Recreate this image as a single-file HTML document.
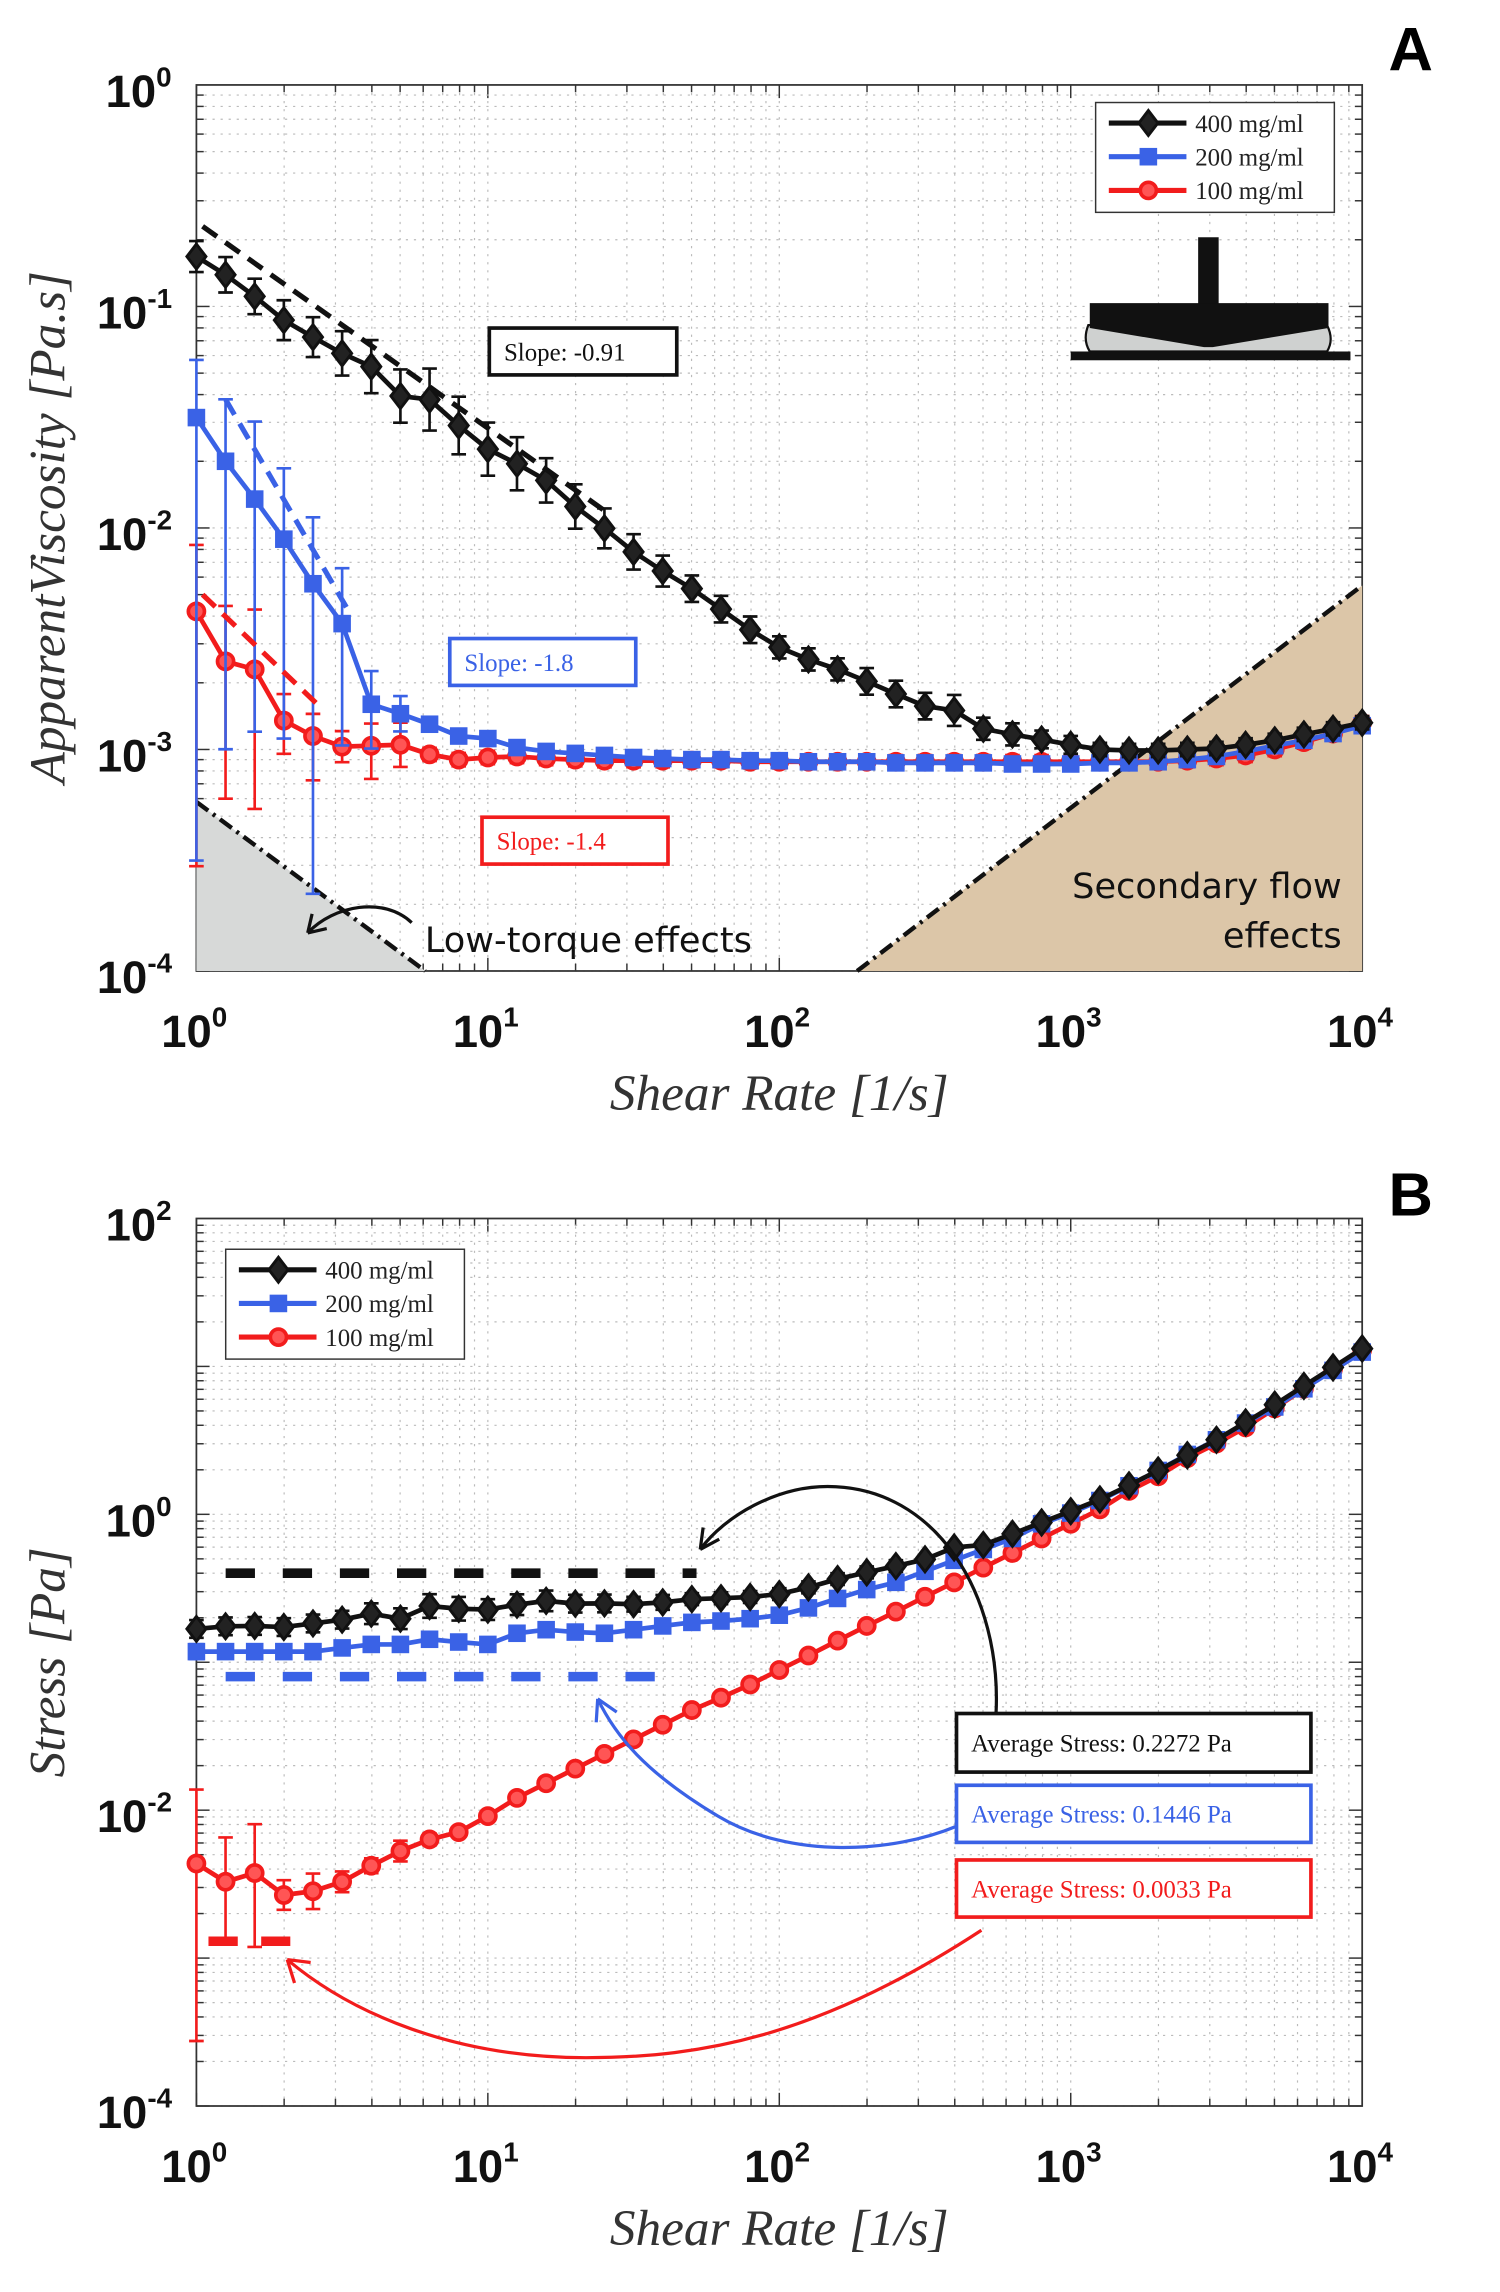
<!DOCTYPE html>
<html><head><meta charset="utf-8"><style>
html,body{margin:0;padding:0;background:#fff;}
svg{display:block;}
.tick{font-family:"Liberation Sans",sans-serif;font-weight:bold;font-size:31px;fill:#111;}
.sup{font-size:19px;}
.axl{font-family:"Liberation Serif",serif;font-style:italic;font-size:35px;fill:#333;}
.leg{font-family:"Liberation Serif",serif;font-size:17px;fill:#222;}
.box{font-family:"Liberation Serif",serif;font-size:17px;}
.ann{font-family:"DejaVu Sans",sans-serif;font-size:24px;fill:#111;}
.pl{font-family:"Liberation Sans",sans-serif;font-weight:bold;font-size:42px;fill:#000;}
</style></head><body>
<svg id="fig" width="1500" height="2292" viewBox="0 0 1024 1565" xmlns="http://www.w3.org/2000/svg"></svg>
<script>
// ---- data (shear rates: 10 points per decade, 1 .. 1e4) ----
const nPts = 41;
const shearRates = Array.from({length:nPts},(_,i)=>Math.pow(10,i/10));
const yTicksA = [0,-1,-2,-3,-4];
const yTicksB = [2,0,-2,-4];
const xTicks = [0,1,2,3,4];
const viscBlack = [0.168,0.139,0.111,0.0867,0.0727,0.0614,0.0535,0.0394,0.038,0.029,0.0227,0.0195,0.0164,0.0125,0.00996,0.0078,0.00639,0.00532,0.0043,0.00347,0.00289,0.00255,0.0023,0.00203,0.00178,0.00157,0.0015,0.00124,0.00117,0.00111,0.00105,0.001,0.00099,0.00099,0.001,0.00101,0.00105,0.0011,0.00117,0.00124,0.00132];
const viscBlue = [0.0315,0.020,0.0135,0.0089,0.0056,0.0037,0.0016,0.00145,0.0013,0.00115,0.00112,0.00102,0.00098,0.00096,0.00094,0.00092,0.00091,0.0009,0.0009,0.00089,0.00089,0.00088,0.00088,0.00088,0.00087,0.00087,0.00087,0.00087,0.00086,0.00086,0.00086,0.00087,0.00087,0.00088,0.0009,0.00093,0.00098,0.00104,0.0011,0.00118,0.00128];
const viscRed = [0.0042,0.0025,0.0023,0.00135,0.00115,0.00103,0.00104,0.00105,0.00095,0.0009,0.00092,0.00093,0.00091,0.0009,0.00089,0.00089,0.00089,0.00089,0.00089,0.00088,0.00088,0.00088,0.00088,0.00088,0.00088,0.00088,0.00088,0.00088,0.00088,0.00088,0.00088,0.00088,0.00088,0.00088,0.00089,0.00091,0.00094,0.001,0.00108,0.00118,0.00132];
const errBlackA = [0.07,0.08,0.08,0.09,0.09,0.1,0.12,0.12,0.14,0.13,0.12,0.12,0.1,0.1,0.09,0.08,0.07,0.06,0.06,0.06,0.05,0.05,0.05,0.06,0.06,0.06,0.07,0.05,0.05,0.04,0.04,0.03,0.03,0.03,0.03,0.03,0.03,0.03,0.03,0.03,0.03];
const errBlueUpA = [0.26,0.28,0.35,0.32,0.3,0.25,0.15,0.08];
const errBlueDnA = [2,1.3,1.05,0.9,1.4,0.55,0.2,0.08];
const errRedUpA = [0.3,0.25,0.27,0.12,0.1,0.07,0.1,0.1];
const errRedDnA = [1.15,0.62,0.63,0.15,0.2,0.07,0.15,0.1];
const stressBlack = [0.168,0.175,0.176,0.173,0.183,0.194,0.213,0.197,0.24,0.23,0.227,0.245,0.26,0.249,0.25,0.247,0.254,0.267,0.271,0.276,0.289,0.321,0.365,0.405,0.447,0.496,0.597,0.621,0.738,0.881,1.05,1.26,1.57,1.98,2.51,3.19,4.18,5.51,7.38,9.85,13.2];
const stressBlue = [0.118,0.118,0.118,0.118,0.118,0.125,0.132,0.132,0.143,0.137,0.132,0.157,0.166,0.16,0.157,0.166,0.176,0.186,0.19,0.197,0.208,0.233,0.27,0.31,0.347,0.412,0.489,0.579,0.687,0.863,1.02,1.24,1.56,1.98,2.54,3.19,4.14,5.32,7.06,9.4,12.5];
const stressRed = [0.00436,0.00328,0.00376,0.00267,0.00283,0.00328,0.00421,0.00529,0.00634,0.00711,0.00912,0.0121,0.0152,0.0191,0.024,0.0301,0.0378,0.0475,0.0576,0.0707,0.0887,0.111,0.14,0.176,0.22,0.277,0.347,0.436,0.548,0.687,0.863,1.08,1.44,1.81,2.4,3.01,3.87,5.2,7.06,9.6,12.9];
const errBlackB = [0.06,0.06,0.06,0.06,0.06,0.06,0.07,0.07,0.08,0.08,0.07,0.07,0.07,0.06,0.06,0.05,0.05,0.04,0.04,0.04,0.04,0.04,0.04,0.04,0.04,0.03,0.03,0.03,0.03,0.03];
const errBlueB = [0.05,0.04,0.04,0.03,0.03,0.03];
const errRedUpB = [0.5,0.3,0.33,0.1,0.12,0.07,0.05,0.07,0.04];
const errRedDnB = [1.2,0.4,0.5,0.1,0.12,0.07,0.05,0.07,0.04];
// fitted slope lines [x0, y0, x1, y1]
const slopeBlack = [1.05,0.23,26,0.0116];
const slopeBlue = [1.26,0.038,3.3,0.0043];
const slopeRed = [1.05,0.005,2.6,0.0016];
const avgBlack = [1.26,52,0.4];
const avgBlue = [1.26,40,0.08];
const avgRed = [1.1,2.1,0.0013];

const NS="http://www.w3.org/2000/svg";
const svg=document.getElementById('fig');
function mk(tag,attrs,parent){const e=document.createElementNS(NS,tag);for(const k in attrs)e.setAttribute(k,attrs[k]);(parent||svg).appendChild(e);return e;}
const X0=134,X1=930;
const xs=v=>X0+(Math.log10(v))*(X1-X0)/4;
function yScale(top,bot,lmax,lmin){return v=>top+(lmax-Math.log10(v))*(bot-top)/(lmax-lmin);}
const yA=yScale(58,663,0,-4);
const yB=yScale(832,1438,2,-4);
const COL={k:'#111',b:'#3a62e6',r:'#f21c1c'};

function axes(top,bot,lmax,lmin,ys,name,ticksY,ylab,labx){
  const g=mk('g',{});
  
  
  for(let d=0;d<4;d++)for(let m=1;m<10;m++){const x=xs(Math.pow(10,d)*m);
    mk('line',{x1:x,x2:x,y1:top,y2:bot,stroke:'#bbb','stroke-width':0.8,'stroke-dasharray':'1.5 4'},g);
    mk('line',{x1:x,x2:x,y1:top,y2:top+(m==1?9:5),stroke:'#333','stroke-width':1},g);
    mk('line',{x1:x,x2:x,y1:bot,y2:bot-(m==1?9:5),stroke:'#333','stroke-width':1},g);}
  for(let d=lmin;d<lmax;d++)for(let m=1;m<10;m++){const y=ys(Math.pow(10,d)*m);
    mk('line',{x1:X0,x2:X1,y1:y,y2:y,stroke:'#bbb','stroke-width':0.8,'stroke-dasharray':'1.5 4'},g);
    mk('line',{x1:X0,x2:X0+(m==1?9:5),y1:y,y2:y,stroke:'#333','stroke-width':1},g);
    mk('line',{x1:X1,x2:X1-(m==1?9:5),y1:y,y2:y,stroke:'#333','stroke-width':1},g);}
  mk('rect',{x:X0,y:top,width:X1-X0,height:bot-top,fill:'none',stroke:'#333','stroke-width':1.2},g);
  xTicks.forEach(p=>{const t=mk('text',{x:xs(Math.pow(10,p))-24,y:bot+52,class:'tick'},g);
    
    
    t.innerHTML='10<tspan class="sup" dy="-14">'+p+'</tspan>';});
  ticksY.forEach(p=>{const t=mk('text',{x:p<0?66:72,y:ys(Math.pow(10,p))+15,class:'tick'},g);
    
    
    t.innerHTML='10<tspan class="sup" dy="-14">'+p+'</tspan>';});
  const xl=mk('text',{x:532,y:bot+95,class:'axl','text-anchor':'middle'},g);
  
  
  xl.textContent='Shear  Rate  [1/s]';
  const yl=mk('text',{x:0,y:0,class:'axl','text-anchor':'middle',transform:'translate(44,'+labx+') rotate(-90)'},g);
  
  
  yl.textContent=ylab;
}

function marker(shape,x,y,c,g){
  let m;
  if(shape==='d') m=mk('polygon',{points:`${x},${y-8.5} ${x+6.5},${y} ${x},${y+8.5} ${x-6.5},${y}`,fill:'#222',stroke:c,'stroke-width':2},g);
  else if(shape==='s') m=mk('rect',{x:x-5,y:y-5,width:10,height:10,fill:c,stroke:c,'stroke-width':2},g);
  else m=mk('circle',{cx:x,cy:y,r:5.5,fill:'#f55',stroke:c,'stroke-width':2.5},g);
  
  
}

function series(vals,ys,top,bot,c,shape,errUp,errDn,name,defErr){
  const g=mk('g',{});
  
  
  vals.forEach((v,i)=>{
    let up=errUp[i]!==undefined?errUp[i]:defErr, dn=errDn[i]!==undefined?errDn[i]:defErr;
    const x=xs(shearRates[i]);
    const y1=Math.max(top,ys(v*Math.pow(10,up))), y2=Math.min(bot,ys(v/Math.pow(10,dn)));
    const eb=mk('path',{d:`M${x},${y1}V${y2}M${x-5},${y1}H${x+5}`+(y2<bot?`M${x-5},${y2}H${x+5}`:''),stroke:c,'stroke-width':1.8,fill:'none'},g);
    
    
  });
  const ln=mk('polyline',{points:vals.map((v,i)=>xs(shearRates[i])+','+ys(v)).join(' '),fill:'none',stroke:c,'stroke-width':3.2},g);
  
  
  vals.forEach((v,i)=>marker(shape,xs(shearRates[i]),ys(v),c,g));
}

function legend(x,y){
  const g=mk('g',{});
  
  
  mk('rect',{x:x,y:y,width:163,height:75,fill:'#fff',stroke:'#333','stroke-width':1},g);
  [['400 mg/ml',COL.k,'d'],['200 mg/ml',COL.b,'s'],['100 mg/ml',COL.r,'o']].forEach((e,i)=>{
    const ly=y+14+i*23;
    const le=mk('g',{},g);
    
    
    mk('line',{x1:x+9,x2:x+62,y1:ly,y2:ly,stroke:e[1],'stroke-width':3.5},le);
    marker(e[2],x+36,ly,e[1],le);
    const t=mk('text',{x:x+68,y:ly+6,class:'leg'},le);t.textContent=e[0];
  });
}
function textBox(x,y,w,h,c,txt,name){
  const g=mk('g',{});
  
  
  mk('rect',{x:x,y:y,width:w,height:h,fill:'#fff',stroke:c,'stroke-width':2.5},g);
  const t=mk('text',{x:x+10,y:y+h/2+6,class:'box',fill:c},g);t.textContent=txt;
}
function dashed(arr,ys,c,w,dash,name){
  const l=mk('line',{x1:xs(arr[0]),y1:ys(arr[1]),x2:xs(arr[2]),y2:ys(arr[3]),stroke:c,'stroke-width':w,'stroke-dasharray':dash});
  
  
}
function hdash(arr,ys,c,name,dash){
  const l=mk('line',{x1:xs(arr[0]),y1:ys(arr[2]),x2:xs(arr[1]),y2:ys(arr[2]),stroke:c,'stroke-width':6.5,'stroke-dasharray':dash||'20 19'});
  
  
}

// ===== Panel A =====
axes(58,663,0,-4,yA,'panel-a-axes',yTicksA,'ApparentViscosity  [Pa.s]',360);
const gr=mk('polygon',{points:`${xs(1)},${yA(0.00058)} ${xs(6.1)},663 ${X0},663`,fill:'#d7d9d8'});


const tan=mk('polygon',{points:`${xs(185)},663 ${X1},${yA(0.0055)} ${X1},663`,fill:'#dcc6a8'});


dashed([1,0.00058,6.1,0.0001],yA,'#111',3,'10 4 2 4','low-torque-limit-line');
dashed([185,0.0001,1e4,0.0055],yA,'#111',3,'10 4 2 4','secondary-flow-limit-line');
series(viscRed,yA,58,663,COL.r,'o',errRedUpA,errRedDnA,'series-100-mgml',0.03);
series(viscBlue,yA,58,663,COL.b,'s',errBlueUpA,errBlueDnA,'series-200-mgml',0.03);
series(viscBlack,yA,58,663,COL.k,'d',errBlackA,errBlackA,'series-400-mgml',0.03);
dashed(slopeBlack,yA,COL.k,3.5,'12 7','slope-fit-black');
dashed(slopeBlue,yA,COL.b,3.5,'12 7','slope-fit-blue');
dashed(slopeRed,yA,COL.r,3.5,'12 7','slope-fit-red');
legend(748,70);
textBox(334,224,128,32,'#111','Slope:  -0.91','slope-label-black');
textBox(307,436,127,32,COL.b,'Slope:  -1.8','slope-label-blue');
textBox(329,558,127,32,COL.r,'Slope:  -1.4','slope-label-red');
let t=mk('text',{x:290,y:650,class:'ann'});t.textContent='Low-torque effects';


t=mk('text',{x:916,y:613,class:'ann','text-anchor':'end'});t.textContent='Secondary flow';


t=mk('text',{x:916,y:647,class:'ann','text-anchor':'end'});t.textContent='effects';


let ar=mk('path',{d:'M281,630 C262,612 228,618 210,637 M210,637 l3,-13 M210,637 l13,-3',stroke:'#111','stroke-width':2.2,fill:'none'});


const ic=mk('g',{});


mk('rect',{x:818,y:162,width:14,height:46,fill:'#111'},ic);
mk('path',{d:'M743,222 Q739,232 744,240 L906,240 Q911,232 906,222 Z',fill:'#cfd1d0',stroke:'#111','stroke-width':1.5},ic);
mk('path',{d:'M744,207 H907 V224 L828,237 L822,237 L744,224 Z',fill:'#111'},ic);
mk('rect',{x:731,y:240,width:191,height:6,fill:'#111'},ic);
t=mk('text',{x:948,y:48,class:'pl'});t.textContent='A';



// ===== Panel B =====
axes(832,1438,2,-4,yB,'panel-b-axes',yTicksB,'Stress  [Pa]',1135);
hdash(avgBlack,yB,COL.k,'average-stress-line-black');
hdash(avgBlue,yB,COL.b,'average-stress-line-blue');
hdash(avgRed,yB,COL.r,'average-stress-line-red','20 16');
series(stressRed,yB,832,1438,COL.r,'o',errRedUpB,errRedDnB,'stress-series-100-mgml',0.02);
series(stressBlue,yB,832,1438,COL.b,'s',errBlueB,errBlueB,'stress-series-200-mgml',0.02);
series(stressBlack,yB,832,1438,COL.k,'d',errBlackB,errBlackB,'stress-series-400-mgml',0.02);
legend(154,853);
ar=mk('path',{d:'M680,1170 C684,1090 640,1015 565,1015 C530,1015 495,1035 478,1058 M478,1058 l2,-15 M478,1058 l13,-7',stroke:'#111','stroke-width':2.2,fill:'none'});


ar=mk('path',{d:'M653,1247 C610,1265 540,1270 490,1240 C440,1210 420,1185 408,1160 M408,1160 l-1,16 M408,1160 l13,9',stroke:COL.b,'stroke-width':2.2,fill:'none'});


ar=mk('path',{d:'M670,1318 C560,1390 480,1405 400,1405 C310,1405 240,1375 196,1338 M196,1338 l5,16 M196,1338 l16,2',stroke:COL.r,'stroke-width':2.2,fill:'none'});


textBox(653,1170,242,40,'#111','Average Stress:  0.2272 Pa','average-stress-box-black');
textBox(653,1219,242,39,COL.b,'Average Stress:  0.1446 Pa','average-stress-box-blue');
textBox(653,1270,242,39,COL.r,'Average Stress:  0.0033 Pa','average-stress-box-red');
t=mk('text',{x:948,y:830,class:'pl'});t.textContent='B';


</script>
</body></html>
